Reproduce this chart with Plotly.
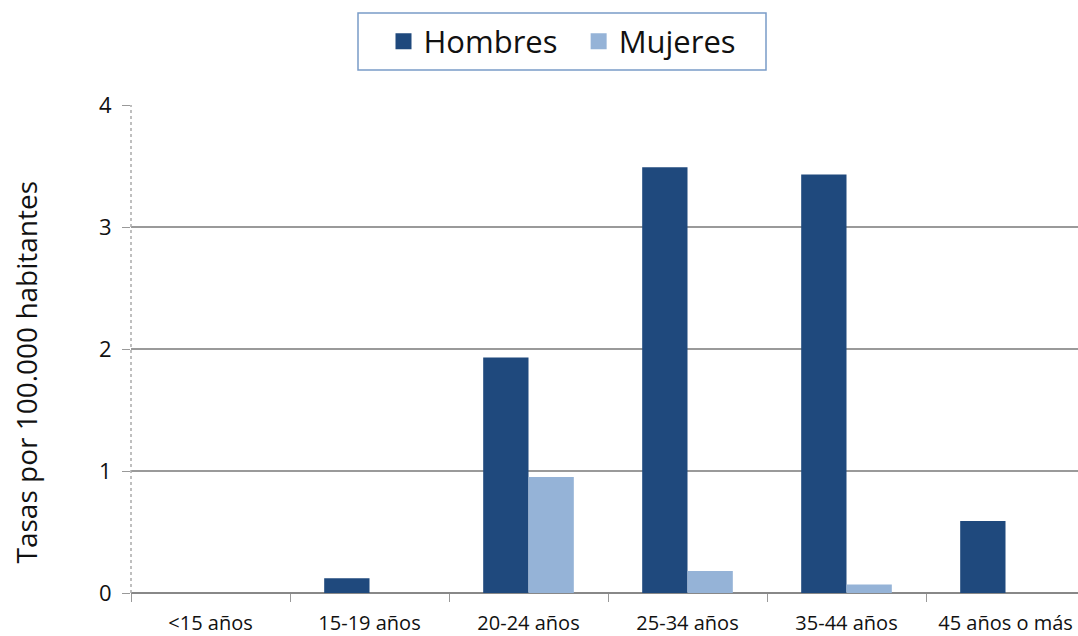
import plotly.graph_objects as go

categories = ["<15 años", "15-19 años", "20-24 años", "25-34 años", "35-44 años", "45 años o más"]
hombres = [0, 0.12, 1.93, 3.49, 3.43, 0.59]
mujeres = [0, 0, 0.95, 0.18, 0.07, 0]
y_ticks = [0, 1, 2, 3, 4]
series = [("Hombres", hombres, "#1F497D"), ("Mujeres", mujeres, "#95B3D7")]

FONT = "Open Sans"
NB = "\u00a0"
fig = go.Figure()
for name, vals, col in series:
    fig.add_trace(go.Bar(name=name, x=categories, y=vals, showlegend=False,
                         marker=dict(color=col, line=dict(width=0))))
legend_names = ["Hombres" + NB * 2, "Mujeres"]
for (name, vals, col), lname in zip(series, legend_names):
    fig.add_trace(go.Scatter(name=lname, x=[None], y=[None], mode="markers",
                             marker=dict(symbol="square", size=19, color=col)))

W, H = 1078, 636
L, R, T, B = 131, 0, 105, 636 - 593
pw = W - L - R
ph = H - T - B
bottom = H - B
CAT_W = 159.0  # px per category in the original (plot runs past the right edge)
x_hi = -0.5 + pw / CAT_W


def px_x(sx):
    return (sx - L) / pw


def px_y(sy):
    return (bottom - sy) / ph


fig.update_layout(
    width=W, height=H,
    margin=dict(l=L, r=R, t=T, b=B, autoexpand=False),
    paper_bgcolor="white", plot_bgcolor="white",
    barmode="group", bargap=0.43, bargroupgap=0,
    font=dict(family=FONT, color="#222"),
    legend=dict(orientation="h", x=px_x(383.5), xanchor="left", y=px_y(41.5), yanchor="middle",
                borderwidth=0, bgcolor="rgba(0,0,0,0)", font=dict(size=31, family=FONT, color="#111"),
                itemwidth=30, tracegroupgap=0, traceorder="normal", itemsizing="trace"),
    xaxis=dict(type="category", range=[-0.5, x_hi], showgrid=False, ticks="outside", tickson="boundaries", ticklen=8,
               tickcolor="#999", showline=False, automargin=False, ticklabelstandoff=16,
               tickfont=dict(size=20, family=FONT, color="#111")),
    yaxis=dict(range=[0, 4], tickvals=y_ticks, showgrid=True, gridcolor="#9a9a9a", gridwidth=1.5,
               ticks="outside", ticklen=8, tickcolor="#999", zeroline=True, zerolinecolor="#888", zerolinewidth=1.5,
               automargin=False, ticklabelstandoff=6,
               tickfont=dict(size=22, family=FONT, color="#111")),
)
fig.add_annotation(text="Tasas por 100.000 habitantes", textangle=-90, showarrow=False,
                   xref="paper", yref="paper", x=px_x(25), y=px_y(372.5), xanchor="center", yanchor="middle",
                   font=dict(size=28, family=FONT, color="#111"))
fig.add_shape(type="line", xref="paper", yref="y", x0=0, x1=0, y0=0, y1=4,
              line=dict(color="#aaa", width=1.5, dash="dot"))
fig.add_shape(type="rect", xref="paper", yref="paper", x0=px_x(358), x1=px_x(766), y0=px_y(70), y1=px_y(13),
              line=dict(color="#7A9CC8", width=1.5), fillcolor="rgba(0,0,0,0)", layer="above")
fig.write_html("out.html", config={"displayModeBar": False},
               post_script="document.body.style.margin='0';document.body.style.overflow='hidden';")
